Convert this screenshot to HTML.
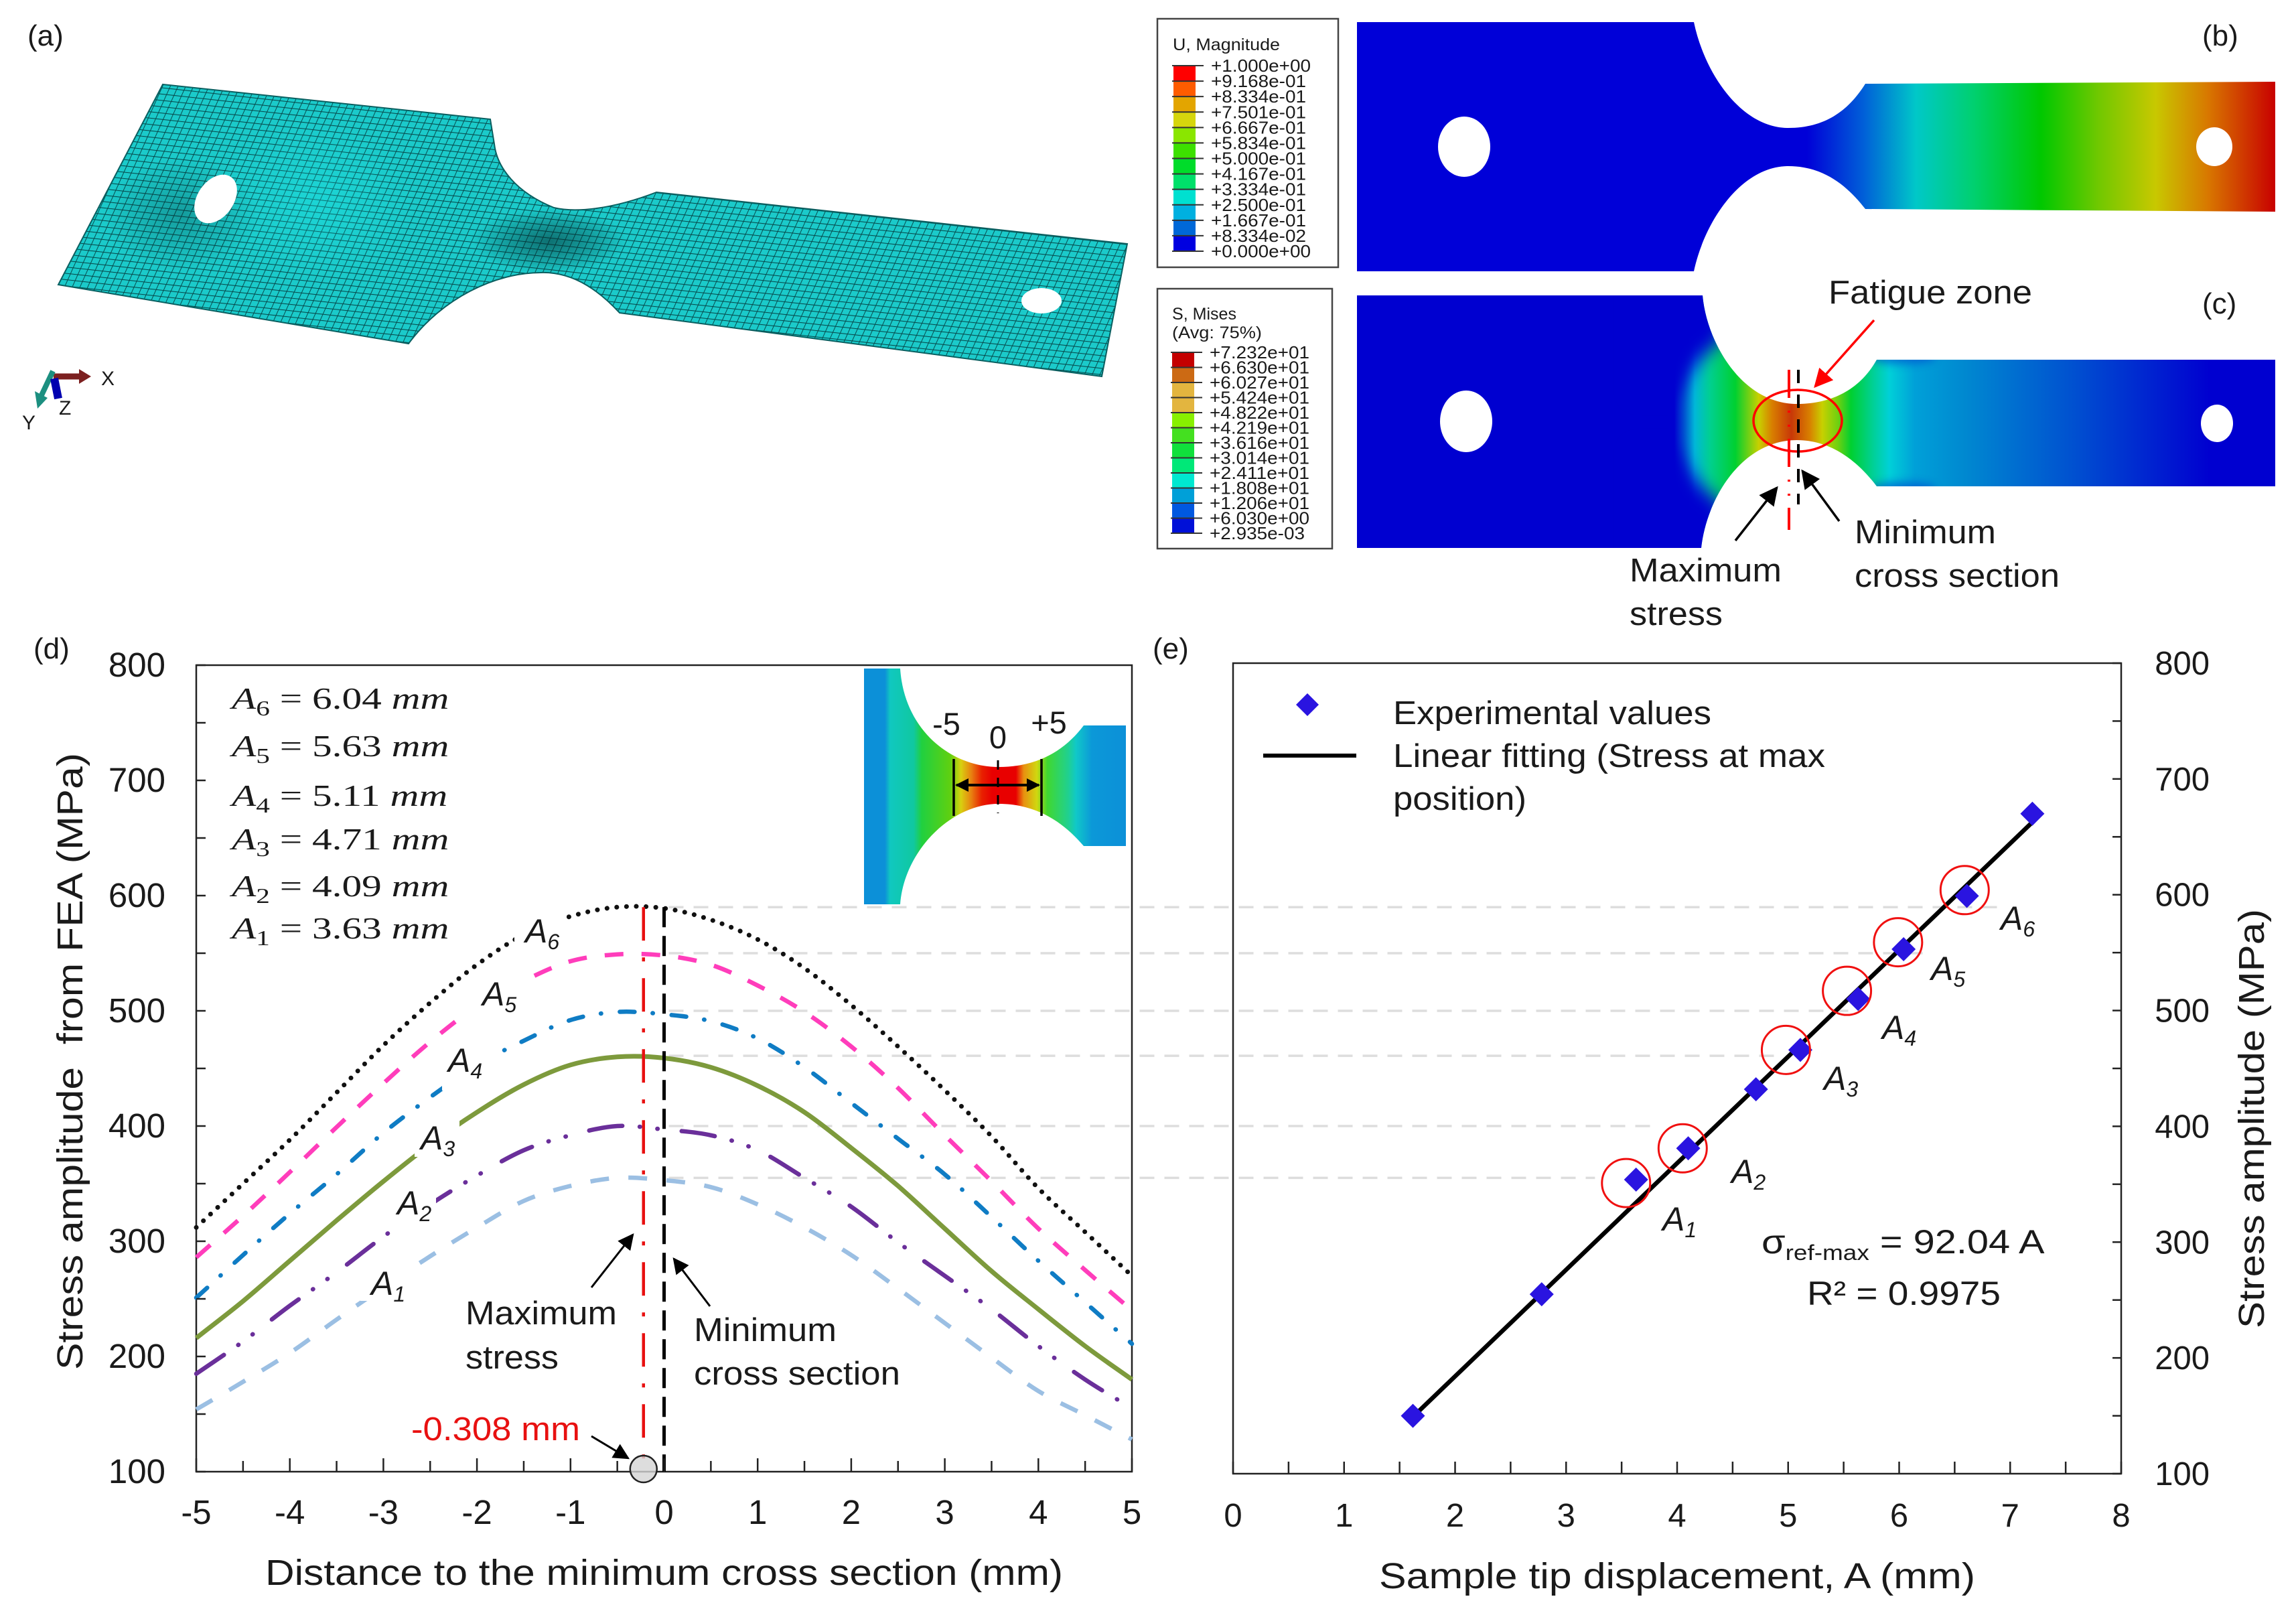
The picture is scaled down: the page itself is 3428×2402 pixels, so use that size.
<!DOCTYPE html>
<html lang="en">
<head>
<meta charset="utf-8">
<title>Fatigue specimen FEA and stress amplitude chart</title>
<style>
html,body{margin:0;padding:0;background:#fff;}
svg{display:block;font-family:"Liberation Sans",sans-serif;fill:#1a1a1a;}
.ax{font-size:51px;}
.title{font-size:54px;}
.note{font-size:49px;}
.panel{font-size:44px;}
.eq{font-family:"Liberation Serif",serif;font-size:46px;}
.alabel{font-size:50px;font-style:italic;}
.sub{font-size:32px;}
</style>
</head>
<body>
<svg id="fig" xmlns="http://www.w3.org/2000/svg" width="3428" height="2402" viewBox="0 0 3428 2402">
<defs>
<pattern id="mesh" patternUnits="userSpaceOnUse" width="11" height="9" patternTransform="matrix(1,0.11,-0.45,1,0,0)">
<rect width="11" height="9" fill="#1bcaca"/>
<path d="M0,0H11M0,0V9" stroke="#06484a" stroke-width="2" fill="none"/>
</pattern>
<radialGradient id="neck-shade"><stop offset="0" stop-color="#03282a" stop-opacity=".55"/><stop offset=".6" stop-color="#03282a" stop-opacity=".25"/><stop offset="1" stop-color="#03282a" stop-opacity="0"/></radialGradient>
<radialGradient id="hole-shade"><stop offset="0" stop-color="#03282a" stop-opacity=".28"/><stop offset="1" stop-color="#03282a" stop-opacity="0"/></radialGradient>
<radialGradient id="bright-zone"><stop offset="0" stop-color="#20f0f0" stop-opacity=".28"/><stop offset="1" stop-color="#20f0f0" stop-opacity="0"/></radialGradient>
<linearGradient id="grad-b" gradientUnits="userSpaceOnUse" x1="2620" y1="0" x2="3397" y2="0">
<stop offset="0" stop-color="#0000d8"/><stop offset=".10" stop-color="#0000d8"/><stop offset=".21" stop-color="#0060d8"/><stop offset=".31" stop-color="#00c8c8"/><stop offset=".42" stop-color="#00d070"/><stop offset=".55" stop-color="#00c800"/><stop offset=".66" stop-color="#70c800"/><stop offset=".77" stop-color="#c8c800"/><stop offset=".87" stop-color="#d87800"/><stop offset="1" stop-color="#c80000"/>
</linearGradient>
<linearGradient id="grad-c" gradientUnits="userSpaceOnUse" x1="2490" y1="0" x2="3299" y2="0">
<stop offset="0" stop-color="#0000d0"/><stop offset=".012" stop-color="#0000d0"/><stop offset=".03" stop-color="#0050d0"/><stop offset=".05" stop-color="#00b8d8"/><stop offset=".078" stop-color="#00d090"/><stop offset=".125" stop-color="#00d030"/><stop offset=".168" stop-color="#c8d000"/><stop offset=".192" stop-color="#d88000"/><stop offset=".228" stop-color="#c83808"/><stop offset=".262" stop-color="#d88000"/><stop offset=".285" stop-color="#c8d000"/><stop offset=".314" stop-color="#70d010"/><stop offset=".338" stop-color="#00d030"/><stop offset=".38" stop-color="#00d098"/><stop offset=".409" stop-color="#00d0d8"/><stop offset=".456" stop-color="#00a0d8"/><stop offset=".55" stop-color="#0088d0"/><stop offset=".75" stop-color="#0050d0"/><stop offset="1" stop-color="#0000d0"/>
</linearGradient>
<linearGradient id="grad-inset" gradientUnits="userSpaceOnUse" x1="1290" y1="0" x2="1681" y2="0">
<stop offset="0" stop-color="#0c90d8"/><stop offset=".08" stop-color="#0c90d8"/><stop offset=".10" stop-color="#10c8c0"/><stop offset=".19" stop-color="#10c8a0"/><stop offset=".22" stop-color="#20d040"/><stop offset=".33" stop-color="#60d010"/><stop offset=".37" stop-color="#d8d010"/><stop offset=".41" stop-color="#e88010"/><stop offset=".45" stop-color="#e82000"/><stop offset=".49" stop-color="#e80000"/><stop offset=".58" stop-color="#e80000"/><stop offset=".61" stop-color="#e89010"/><stop offset=".66" stop-color="#d0d810"/><stop offset=".70" stop-color="#40d830"/><stop offset=".78" stop-color="#20d090"/><stop offset=".81" stop-color="#10c8c8"/><stop offset=".87" stop-color="#0c98d8"/><stop offset="1" stop-color="#0c90d8"/>
</linearGradient>
<filter id="soft" x="-50%" y="-50%" width="200%" height="200%"><feGaussianBlur stdDeviation="13"/></filter>
<filter id="softer" x="-50%" y="-100%" width="200%" height="300%"><feGaussianBlur stdDeviation="6"/></filter>
<clipPath id="clip-c"><path d="M2026,441 L2542,441 C2548,510 2600,603 2683,603 C2730,603 2775,585 2802,537 L3397,537 L3397,726 L2802,726 C2775,690 2735,657 2683,657 C2600,657 2548,745 2540,818 L2026,818 Z"/></clipPath>
<marker id="ah" viewBox="0 0 10 10" refX="9" refY="5" markerWidth="8" markerHeight="8" markerUnits="strokeWidth" orient="auto"><path d="M0,0L10,5L0,10z" fill="#000"/></marker>
<marker id="ahb" viewBox="0 0 10 10" refX="9" refY="5" markerWidth="5" markerHeight="5" markerUnits="strokeWidth" orient="auto-start-reverse"><path d="M0,0L10,5L0,10z" fill="#000"/></marker>
<marker id="ahr" viewBox="0 0 10 10" refX="9" refY="5" markerWidth="8" markerHeight="8" markerUnits="strokeWidth" orient="auto"><path d="M0,0L10,5L0,10z" fill="#f00"/></marker>
</defs>
<rect width="3428" height="2402" fill="#fff"/>

<!-- panel a -->
<g>
<path d="M243,126 L732,178 L738,215 C742,250 770,287 827,310 C860,318 915,312 980,287 L1683,364 L1645,562 L925,467 C900,440 860,405 807,407 C740,407 660,445 610,513 L87,425 Z" fill="url(#mesh)" stroke="#0a5f60" stroke-width="2"/>
<ellipse cx="470" cy="300" rx="150" ry="120" fill="url(#bright-zone)"/>
<ellipse cx="820" cy="360" rx="115" ry="48" fill="url(#neck-shade)"/>
<ellipse cx="270" cy="320" rx="115" ry="85" fill="url(#hole-shade)"/>
<ellipse cx="322" cy="297" rx="40" ry="27" transform="rotate(-55 322 297)" fill="#fff"/>
<ellipse cx="1555" cy="449" rx="30" ry="19" fill="#fff"/>
</g>
<g>
<path d="M80,562H122" stroke="#7c2020" stroke-width="9"/><path d="M118,551L136,562L118,573z" fill="#7c2020"/>
<path d="M79,554L62,590" stroke="#1c8f80" stroke-width="8"/><path d="M52,584L71,594L56,610z" fill="#1c8f80"/>
<path d="M81,565L87,595" stroke="#0000b0" stroke-width="12"/>
<text x="151" y="575" font-size="30">X</text>
<text x="88" y="619" font-size="30">Z</text>
<text x="33" y="641" font-size="30">Y</text>
</g>
<text class="panel" x="41" y="68">(a)</text>
<text class="panel" x="3288" y="68">(b)</text>
<text class="panel" x="3288" y="468">(c)</text>
<text class="panel" x="50" y="983">(d)</text>
<text class="panel" x="1721" y="983">(e)</text>

<!-- panel b -->
<g>
<path d="M2026,33 L2529,33 C2545,110 2600,191 2670,191 C2725,191 2760,165 2785,125 L3397,122 L3397,316 L2785,312 C2760,280 2725,248 2670,248 C2600,248 2545,330 2529,405 L2026,405 Z" fill="url(#grad-b)"/>
<ellipse cx="2186" cy="219" rx="39" ry="45" fill="#fff"/>
<ellipse cx="3306" cy="219" rx="27" ry="29" fill="#fff"/>
</g>
<!-- panel c -->
<g>
<path d="M2026,441 L2542,441 C2548,510 2600,603 2683,603 C2730,603 2775,585 2802,537 L3397,537 L3397,726 L2802,726 C2775,690 2735,657 2683,657 C2600,657 2548,745 2540,818 L2026,818 Z" fill="url(#grad-c)"/>
<g clip-path="url(#clip-c)">
<path d="M2440,400 L2590,400 L2570,510 Q2535,530 2500,590 L2440,590 Z" fill="#0000d0" filter="url(#soft)"/>
<path d="M2440,860 L2590,860 L2570,750 Q2535,730 2500,670 L2440,670 Z" fill="#0000d0" filter="url(#soft)"/>
<ellipse cx="2840" cy="534" rx="50" ry="10" fill="#0048d0" opacity=".6" filter="url(#softer)"/>
<ellipse cx="2840" cy="729" rx="50" ry="10" fill="#0048d0" opacity=".6" filter="url(#softer)"/>
</g>
<ellipse cx="2189" cy="629" rx="39" ry="46" fill="#fff"/>
<ellipse cx="3310" cy="632" rx="24" ry="28" fill="#fff"/>
<ellipse cx="2684" cy="628" rx="66" ry="46" fill="none" stroke="#f00" stroke-width="3.5"/>
<path d="M2671,552V791" stroke="#f00" stroke-width="4" stroke-dasharray="42 19 3 18 3 18" fill="none"/>
<path d="M2685,552V753" stroke="#000" stroke-width="4" stroke-dasharray="20 17" fill="none"/>
<path d="M2798,478L2710,577" stroke="#f00" stroke-width="3.5" marker-end="url(#ahr)" fill="none"/>
<path d="M2591,807L2653,728" stroke="#000" stroke-width="3.5" marker-end="url(#ah)" fill="none"/>
<path d="M2746,778L2691,703" stroke="#000" stroke-width="3.5" marker-end="url(#ah)" fill="none"/>
<text class="note" x="2730" y="453" textLength="304" lengthAdjust="spacingAndGlyphs">Fatigue zone</text>
<text class="note" x="2433" y="868" textLength="227" lengthAdjust="spacingAndGlyphs">Maximum</text>
<text class="note" x="2433" y="933" textLength="139" lengthAdjust="spacingAndGlyphs">stress</text>
<text class="note" x="2769" y="811" textLength="211" lengthAdjust="spacingAndGlyphs">Minimum</text>
<text class="note" x="2769" y="876" textLength="306" lengthAdjust="spacingAndGlyphs">cross section</text>
</g>

<!-- contour legends -->
<rect x="1728" y="28" width="270" height="371" fill="#fff" stroke="#444" stroke-width="2.5"/>
<text x="1751" y="75" font-size="25" textLength="160" lengthAdjust="spacingAndGlyphs">U, Magnitude</text>
<rect x="1728" y="431" width="261" height="388" fill="#fff" stroke="#444" stroke-width="2.5"/>
<text x="1750" y="477" font-size="25" textLength="96" lengthAdjust="spacingAndGlyphs">S, Mises</text>
<text x="1750" y="505" font-size="25" textLength="134" lengthAdjust="spacingAndGlyphs">(Avg: 75%)</text>
<g id="legends"></g>

<!-- panel d -->
<rect id="frame-d" x="293" y="993" width="1397" height="1204" fill="none" stroke="#222" stroke-width="2.5"/>
<g id="refs"></g>
<g>
<path d="M1290,998 L1344,998 C1350,1090 1420,1145 1491,1145 C1550,1145 1590,1120 1618,1083 L1681,1083 L1681,1263 L1618,1263 C1590,1230 1550,1200 1491,1200 C1420,1200 1350,1270 1344,1350 L1290,1350 Z" fill="url(#grad-inset)"/>
<path d="M1424,1133V1218" stroke="#000" stroke-width="3.5"/>
<path d="M1555,1133V1218" stroke="#000" stroke-width="3.5"/>
<path d="M1490,1135V1214" stroke="#000" stroke-width="3" stroke-dasharray="14 12"/>
<path d="M1428,1172H1551" stroke="#000" stroke-width="4" marker-start="url(#ahb)" marker-end="url(#ahb)" fill="none"/>
<text x="1413" y="1097" font-size="47" text-anchor="middle">-5</text>
<text x="1490" y="1117" font-size="47" text-anchor="middle">0</text>
<text x="1566" y="1095" font-size="47" text-anchor="middle">+5</text>
</g>
<g id="series-d"></g>
<g id="axes-d"></g>
<text class="eq" transform="translate(346,1058) scale(1.29,1)"><tspan font-style="italic">A</tspan><tspan class="sub" dy="10">6</tspan><tspan dy="-10"> = 6.04 </tspan><tspan font-style="italic">mm</tspan></text>
<text class="eq" transform="translate(346,1129) scale(1.29,1)"><tspan font-style="italic">A</tspan><tspan class="sub" dy="10">5</tspan><tspan dy="-10"> = 5.63 </tspan><tspan font-style="italic">mm</tspan></text>
<text class="eq" transform="translate(346,1203) scale(1.29,1)"><tspan font-style="italic">A</tspan><tspan class="sub" dy="10">4</tspan><tspan dy="-10"> = 5.11 </tspan><tspan font-style="italic">mm</tspan></text>
<text class="eq" transform="translate(346,1268) scale(1.29,1)"><tspan font-style="italic">A</tspan><tspan class="sub" dy="10">3</tspan><tspan dy="-10"> = 4.71 </tspan><tspan font-style="italic">mm</tspan></text>
<text class="eq" transform="translate(346,1338) scale(1.29,1)"><tspan font-style="italic">A</tspan><tspan class="sub" dy="10">2</tspan><tspan dy="-10"> = 4.09 </tspan><tspan font-style="italic">mm</tspan></text>
<text class="eq" transform="translate(346,1401) scale(1.29,1)"><tspan font-style="italic">A</tspan><tspan class="sub" dy="10">1</tspan><tspan dy="-10"> = 3.63 </tspan><tspan font-style="italic">mm</tspan></text>
<path d="M883,1922L945,1843" stroke="#000" stroke-width="3" marker-end="url(#ah)" fill="none"/>
<path d="M1060,1950L1006,1879" stroke="#000" stroke-width="3" marker-end="url(#ah)" fill="none"/>
<path d="M883,2144L938,2177" stroke="#000" stroke-width="3" marker-end="url(#ah)" fill="none"/>
<text class="note" x="695" y="1977" textLength="226" lengthAdjust="spacingAndGlyphs">Maximum</text>
<text class="note" x="695" y="2043" textLength="139" lengthAdjust="spacingAndGlyphs">stress</text>
<text class="note" x="1036" y="2002" textLength="213" lengthAdjust="spacingAndGlyphs">Minimum</text>
<text class="note" x="1036" y="2067" textLength="308" lengthAdjust="spacingAndGlyphs">cross section</text>
<text class="note" x="614" y="2150" fill="#e81010" style="fill:#e81010" textLength="252" lengthAdjust="spacingAndGlyphs">-0.308 mm</text>
<text class="title" x="396" y="2366" textLength="1191" lengthAdjust="spacingAndGlyphs">Distance to the minimum cross section (mm)</text>
<text class="title" transform="translate(123,2045) rotate(-90)" textLength="921" lengthAdjust="spacingAndGlyphs" xml:space="preserve">Stress amplitude  from FEA (MPa)</text>

<!-- panel e -->
<rect x="1841" y="990" width="1326" height="1210" fill="none" stroke="#222" stroke-width="2.5"/>
<g id="axes-e"></g>
<g id="series-e"></g>
<text class="note" x="2080" y="1081" textLength="475" lengthAdjust="spacingAndGlyphs">Experimental values</text>
<text class="note" x="2080" y="1145" textLength="645" lengthAdjust="spacingAndGlyphs">Linear fitting (Stress at max</text>
<text class="note" x="2080" y="1209" textLength="199" lengthAdjust="spacingAndGlyphs">position)</text>
<path d="M1952,1035L1969,1052L1952,1069L1935,1052Z" fill="#2a14e0"/>
<path d="M1886,1128H2025" stroke="#000" stroke-width="6"/>
<text transform="translate(2630,1871) scale(1.155,1)" font-size="50">σ<tspan class="sub" dy="10">ref-max</tspan><tspan dy="-10"> = 92.04 A</tspan></text>
<text x="2698" y="1948" font-size="50" textLength="289" lengthAdjust="spacingAndGlyphs">R² = 0.9975</text>
<text class="title" x="2059" y="2371" textLength="890" lengthAdjust="spacingAndGlyphs">Sample tip displacement, A (mm)</text>
<text class="title" transform="translate(3380,1983) rotate(-90)" textLength="626" lengthAdjust="spacingAndGlyphs">Stress amplitude (MPa)</text>
</svg>

<script>
// ---------- Panel (d) data ----------
const profileX = [-5,-4.5,-4,-3.5,-3,-2.5,-2,-1.5,-1,-0.5,0,0.5,1,1.5,2,2.5,3,3.5,4,4.5,5];
const seriesA6 = [312,350,388,429,470,507,540,566,582,590,589,579,562,537,505,469,431,391,346,308,270];
const seriesA5 = [286,322,360,399,437,473,504,526,543,549,548,540,522,499,469,433,392,352,311,275,240];
const seriesA4 = [251,288,324,358,394,425,453,474,492,499,497,491,476,451,420,389,358,321,283,247,211];
const seriesA3 = [216,248,283,318,352,384,412,436,453,460,459,451,435,412,381,348,311,274,241,209,180];
const seriesA2 = [185,213,244,273,304,332,357,379,392,400,397,392,379,355,330,299,270,241,209,180,155];
const seriesA1 = [154,178,203,232,260,287,312,335,348,355,353,347,332,312,288,259,229,199,170,149,128];
const profileXTicks = ["-5","-4","-3","-2","-1","0","1","2","3","4","5"];
const stressTicks = ["100","200","300","400","500","600","700","800"];
const peakValues = [590,550,500,461,400,355];
const peakEndA = [6.97,6.23,5.66,4.96,3.84,3.26];
const maxStressX = -0.22;
// ---------- Panel (e) data ----------
const expA = [1.62,2.78,3.63,4.10,4.71,5.11,5.63,6.04,6.61,7.20];
const expStress = [150,255,354,381,432,466,510,553,599,670];
const fitSlope = 92.04;
const fitRange = [1.62,7.2];
const circleA = [3.54,4.05,4.98,5.53,5.99,6.59];
const circleStress = [351,381,466,517,559,604];
const dispTicks = ["0","1","2","3","4","5","6","7","8"];
// ---------- Contour legends ----------
const uLabels = ["+1.000e+00","+9.168e-01","+8.334e-01","+7.501e-01","+6.667e-01","+5.834e-01","+5.000e-01","+4.167e-01","+3.334e-01","+2.500e-01","+1.667e-01","+8.334e-02","+0.000e+00"];
const uColors = ["#ff0000","#ff5c00","#e3a500","#d6d60d","#8ae600","#3de000","#00dc2a","#00e06a","#00e0d0","#00b0e0","#0068d8","#0000e0"];
const sLabels = ["+7.232e+01","+6.630e+01","+6.027e+01","+5.424e+01","+4.822e+01","+4.219e+01","+3.616e+01","+3.014e+01","+2.411e+01","+1.808e+01","+1.206e+01","+6.030e+00","+2.935e-03"];
const sColors = ["#c40000","#cc6a14","#e3b53f","#e3b53f","#88f000","#44e020","#10e03c","#00e878","#00e8d0","#00a0d8","#0058e0","#0010d8"];

const NS = "http://www.w3.org/2000/svg";
const xD = v => 293 + (v + 5) / 10 * 1397;
const yD = v => 2197 - (v - 100) / 700 * 1204;
const xE = v => 1841 + v / 8 * 1326;
const yE = v => 2200 - (v - 100) / 700 * 1210;

function mk(tag, parent, attrs, txt) {
  const el = document.createElementNS(NS, tag);
  for (const k in attrs) el.setAttribute(k, attrs[k]);
  if (txt !== undefined) el.textContent = txt;
  parent.appendChild(el);
  return el;
}
function smooth(xs, ys) {
  const p = xs.map((x, i) => [xD(x), yD(ys[i])]);
  let d = "M" + p[0][0].toFixed(1) + "," + p[0][1].toFixed(1);
  for (let i = 0; i < p.length - 1; i++) {
    const a = p[Math.max(0, i - 1)], b = p[i], c = p[i + 1], e = p[Math.min(p.length - 1, i + 2)];
    const h = c[0] - b[0];
    const m1 = (c[1] - a[1]) / (c[0] - a[0]), m2 = (e[1] - b[1]) / (e[0] - b[0]);
    d += "C" + (b[0] + h / 3).toFixed(1) + "," + (b[1] + m1 * h / 3).toFixed(1) + " " + (c[0] - h / 3).toFixed(1) + "," + (c[1] - m2 * h / 3).toFixed(1) + " " + c[0].toFixed(1) + "," + c[1].toFixed(1);
  }
  return d;
}

// legends
const legends = document.getElementById("legends");
function drawLegend(labels, colors, sx, y0, y1, key) {
  const step = (y1 - y0) / colors.length;
  colors.forEach((c, i) => {
    const band = mk("rect", legends, {x: sx, y: y0 + i * step, width: 33, height: step + .5, fill: c});
    
    
  });
  labels.forEach((t, i) => {
    const y = y0 + i * step;
    const tick = mk("path", legends, {d: "M" + (sx - 2) + "," + y + "H" + (sx + 45), stroke: "#333", "stroke-width": 2});
    
    
    const lab = mk("text", legends, {x: sx + 56, y: y + 9, "font-size": 26, textLength: t.length > 9 && t.indexOf("-0") > 0 ? 142 : 149, lengthAdjust: "spacingAndGlyphs"}, t);
    
    
  });
}
drawLegend(uLabels, uColors, 1752, 98, 375, "displacement");
drawLegend(sLabels, sColors, 1750, 526, 796, "stress");

// peak reference lines
const refs = document.getElementById("refs");
peakValues.forEach((v, i) => {
  const line = mk("line", refs, {x1: xD(0.05), x2: xE(peakEndA[i]), y1: yD(v), y2: yD(v), stroke: "#dddddd", "stroke-width": 3.5, "stroke-dasharray": "22 15"});
  
  
});

// panel d series
const seriesD = document.getElementById("series-d");
const seriesDefs = [
  [seriesA6, "#111111", 7, "0.1 14.5", "6", "round"],
  [seriesA5, "#ff3dbb", 6.5, "28 27", "5", "butt"],
  [seriesA4, "#0f7cc4", 6.5, "22 27 0.5 28", "4", "round"],
  [seriesA3, "#7d9a3c", 7, "", "3", "butt"],
  [seriesA2, "#6a2f9a", 6.5, "50 26 0.5 26 0.5 36", "2", "round"],
  [seriesA1, "#9bbfe3", 6.5, "28 29", "1", "butt"]
];
// annotation layout: label position and the gap it cuts in its curve
const labelLayout = {
  "6": {tx: 784, ty: 1407, mx: 768, my: 1360, mw: 78, mh: 70},
  "5": {tx: 720, ty: 1501, mx: 694, my: 1458, mw: 104, mh: 67},
  "4": {tx: 669, ty: 1600, mx: 660, my: 1565, mw: 83, mh: 63},
  "3": {tx: 628, ty: 1716, mx: 619, my: 1668, mw: 67, mh: 59},
  "2": {tx: 593, ty: 1813, mx: 590, my: 1785, mw: 61, mh: 51},
  "1": {tx: 554, ty: 1933, mx: 538, my: 1887, mw: 72, mh: 55}
};
seriesDefs.forEach(s => {
  const line = mk("path", seriesD, {d: smooth(profileX, s[0]), fill: "none", stroke: s[1], "stroke-width": s[2], "stroke-dasharray": s[3], "stroke-linecap": s[5]});
  
  
});
seriesDefs.forEach(s => {
  const L = labelLayout[s[4]];
  const bg = mk("rect", seriesD, {x: L.mx, y: L.my, width: L.mw, height: L.mh, fill: "#fff"});
  
  
  const t = mk("text", seriesD, {x: L.tx, y: L.ty, "class": "alabel"}, "A");
  
  
  const sub = mk("tspan", t, {"class": "sub", dy: 10}, s[4]);
  
  
});
const redLine = mk("line", seriesD, {x1: xD(maxStressX), x2: xD(maxStressX), y1: yD(peakValues[0]), y2: 2197, stroke: "#e81010", "stroke-width": 4.5, "stroke-dasharray": "50 25 6 25"});


const blackLine = mk("line", seriesD, {x1: xD(0), x2: xD(0), y1: yD(peakValues[0]), y2: 2197, stroke: "#000", "stroke-width": 5, "stroke-dasharray": "30 13"});


const marker = mk("circle", seriesD, {cx: xD(maxStressX), cy: 2193, r: 20, fill: "#d4d4d4", "fill-opacity": .8, stroke: "#222", "stroke-width": 2.5});



// panel d axes
const axesD = document.getElementById("axes-d");
profileXTicks.forEach(t => {
  const v = parseFloat(t);
  const tk = mk("path", axesD, {d: "M" + xD(v) + ",2197v-20", stroke: "#222", "stroke-width": 2.5});
  
  
  if (v < 5) {
    const mn = mk("path", axesD, {d: "M" + xD(v + .5) + ",2197v-16", stroke: "#222", "stroke-width": 2.5});
    
    
  }
  const lb = mk("text", axesD, {x: xD(v), y: 2275, "class": "ax", "text-anchor": "middle"}, t);
  
  
});
stressTicks.forEach(t => {
  const v = parseFloat(t);
  const tk = mk("path", axesD, {d: "M293," + yD(v) + "h14", stroke: "#222", "stroke-width": 2.5});
  
  
  if (v < 800) {
    const mn = mk("path", axesD, {d: "M293," + yD(v + 50) + "h14", stroke: "#222", "stroke-width": 2.5});
    
    
  }
  const lb = mk("text", axesD, {x: 247, y: yD(v) + 17, "class": "ax", "text-anchor": "end"}, t);
  
  
});

// panel e axes
const axesE = document.getElementById("axes-e");
dispTicks.forEach(t => {
  const v = parseFloat(t);
  const tk = mk("path", axesE, {d: "M" + xE(v) + ",2200v-18", stroke: "#222", "stroke-width": 2.5});
  
  
  if (v < 8) {
    const mn = mk("path", axesE, {d: "M" + xE(v + .5) + ",2200v-18", stroke: "#222", "stroke-width": 2.5});
    
    
  }
  const lb = mk("text", axesE, {x: xE(v), y: 2279, "class": "ax", "text-anchor": "middle", style: "font-size:49px"}, t);
  
  
});
stressTicks.forEach(t => {
  const v = parseFloat(t);
  const tk = mk("path", axesE, {d: "M3167," + yE(v) + "h-13", stroke: "#222", "stroke-width": 2.5});
  
  
  if (v < 800) {
    const mn = mk("path", axesE, {d: "M3167," + yE(v + 50) + "h-13", stroke: "#222", "stroke-width": 2.5});
    
    
  }
  const lb = mk("text", axesE, {x: 3299, y: yE(v) + 17, "class": "ax", "text-anchor": "end", style: "font-size:49px"}, t);
  
  
});

// panel e marks
const seriesE = document.getElementById("series-e");
const fitLine = mk("line", seriesE, {x1: xE(fitRange[0]), y1: yE(fitSlope * fitRange[0]), x2: xE(fitRange[1]), y2: yE(fitSlope * fitRange[1]), stroke: "#000", "stroke-width": 6.5});


expA.forEach((a, i) => {
  const px = xE(a), py = yE(expStress[i]);
  const pt = mk("path", seriesE, {d: "M" + px + "," + (py - 18) + "l18,18l-18,18l-18,-18z", fill: "#2a14e0"});
  
  
});
circleA.forEach((a, i) => {
  const c = mk("circle", seriesE, {cx: xE(a), cy: yE(circleStress[i]), r: 36, fill: "none", stroke: "#f01010", "stroke-width": 3});
  
  
});
const eLabels = [[2482,1837,"1"],[2585,1766,"2"],[2723,1627,"3"],[2810,1551,"4"],[2883,1463,"5"],[2987,1388,"6"]];
eLabels.forEach(l => {
  const t = mk("text", seriesE, {x: l[0], y: l[1], "class": "alabel"}, "A");
  
  
  const sub = mk("tspan", t, {"class": "sub", dy: 10}, l[2]);
  
  
});
</script>
</body>
</html>
